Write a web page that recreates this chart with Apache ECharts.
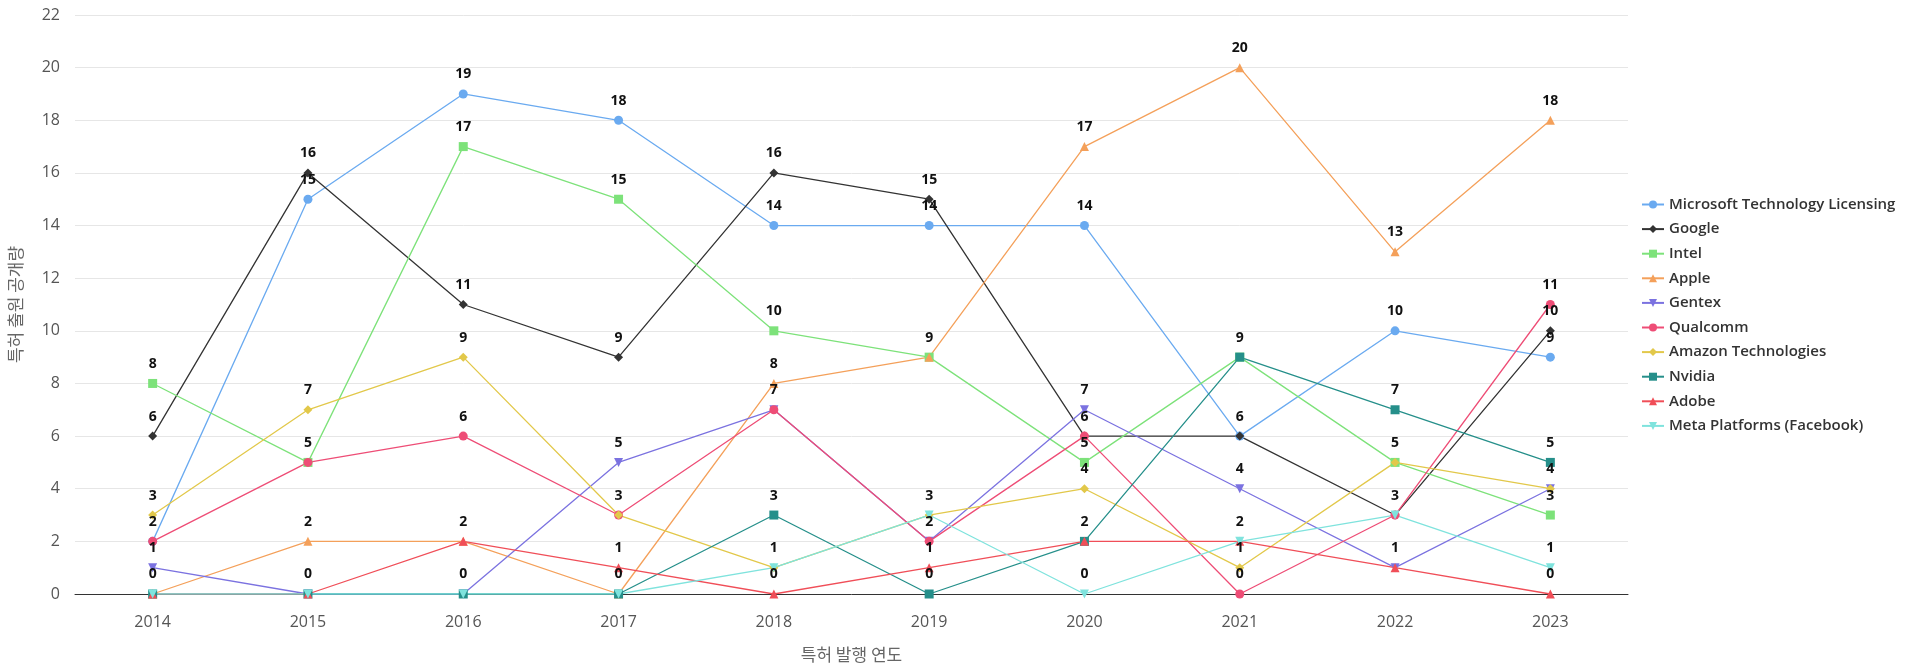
<!DOCTYPE html>
<html><head><meta charset="utf-8">
<script src="https://cdn.jsdelivr.net/npm/echarts@6/dist/echarts.min.js"></script>
<style>html,body{margin:0;padding:0;background:#fff}#c{width:1920px;height:670px}</style>
</head><body><div id="c"></div>
<script>
const years = ['2014','2015','2016','2017','2018','2019','2020','2021','2022','2023'];
const microsoft = [2,15,19,18,14,14,14,6,10,9];
const google    = [6,16,11,9,16,15,6,6,3,10];
const intel     = [8,5,17,15,10,9,5,9,5,3];
const apple     = [0,2,2,0,8,9,17,20,13,18];
const gentex    = [1,0,0,5,7,2,7,4,1,4];
const qualcomm  = [2,5,6,3,7,2,6,0,3,11];
const amazon    = [3,7,9,3,1,3,4,1,5,4];
const nvidia    = [0,0,0,0,3,0,2,9,7,5];
const adobe     = [0,0,2,1,0,1,2,2,1,0];
const meta      = [0,0,0,0,1,3,0,2,3,1];
const yTicks = [0,2,4,6,8,10,12,14,16,18,20,22];

const defs = [
  ['Microsoft Technology Licensing', microsoft, '#6aaaf0', 'circle'],
  ['Google', google, '#333333', 'diamond'],
  ['Intel', intel, '#7de27a', 'rect'],
  ['Apple', apple, '#f4a05a', 'triangle'],
  ['Gentex', gentex, '#7b72e0', 'path://M0,0 L10,0 L5,10 Z'],
  ['Qualcomm', qualcomm, '#ee4d76', 'circle'],
  ['Amazon Technologies', amazon, '#e2c84a', 'diamond'],
  ['Nvidia', nvidia, '#258f8a', 'rect'],
  ['Adobe', adobe, '#f04e58', 'triangle'],
  ['Meta Platforms (Facebook)', meta, '#7fe3dd', 'path://M0,0 L10,0 L5,10 Z']
];
const font = 'Open Sans, Noto Sans, sans-serif';
const chart = echarts.init(document.getElementById('c'));
chart.setOption({
  animation: false,
  grid: {left: 75, right: 292, top: 15, bottom: 76, outerBoundsMode: 'none', containLabel: false},
  legend: {
    orient: 'vertical', left: 1636, top: 192, itemGap: 9.6, itemWidth: 22, itemHeight: 10,
    textStyle: {fontFamily: font, fontSize: 15, color: '#333', fontWeight: 600},
    data: defs.map(d => d[0])
  },
  xAxis: {
    type: 'category', data: years, boundaryGap: true,
    name: '특허 발행 연도', nameLocation: 'middle', nameGap: 52,
    nameTextStyle: {fontFamily: 'Noto Sans CJK KR', fontSize: 17, color: '#666'},
    axisLine: {lineStyle: {color: '#333'}}, axisTick: {show: false},
    axisLabel: {fontFamily: font, fontSize: 16, color: '#555', margin: 20}
  },
  yAxis: {
    type: 'value', min: 0, max: 22, interval: 2,
    name: '특허 출원 공개량', nameLocation: 'middle', nameGap: 51, nameRotate: 90,
    nameTextStyle: {fontFamily: 'Noto Sans CJK KR', fontSize: 17, color: '#666'},
    axisLine: {show: false}, axisTick: {show: false},
    axisLabel: {fontFamily: font, fontSize: 16, color: '#555', margin: 15,
      formatter: v => yTicks.includes(v) ? String(v) : ''},
    splitLine: {lineStyle: {color: '#e6e6e6'}}
  },
  series: defs.map(d => ({
    name: d[0], type: 'line', data: d[1], symbol: d[3], symbolSize: 9,
    itemStyle: {color: d[2]}, lineStyle: {width: 1.3, color: d[2]},
    label: {show: true, position: 'top', distance: 8, color: '#111', fontWeight: 'bold',
      fontFamily: font, fontSize: 14},
    labelLayout: {hideOverlap: true}
  }))
});
</script></body></html>
